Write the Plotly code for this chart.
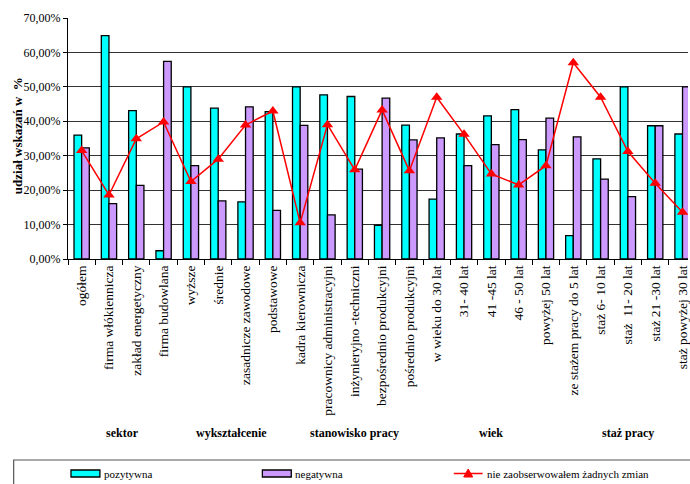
import plotly.graph_objects as go

# Respondent groups along the category axis
categories = [
    "ogółem", "firma włókiennicza", "zakład energetyczny", "firma budowlana",
    "wyższe", "średnie", "zasadnicze zawodowe", "podstawowe",
    "kadra kierownicza", "pracownicy administracyjni", "inżynieryjno -techniczni",
    "bezpośrednio produkcyjni", "pośrednio produkcyjni",
    "w wieku do 30 lat", "31- 40 lat", "41 -45 lat", "46 - 50 lat", "powyżej 50 lat",
    "ze stażem pracy do 5 lat", "staż 6- 10 lat", "staż  11- 20 lat",
    "staż 21 -30 lat", "staż powyżej 30 lat",
]

# Share of answers, in percent
pozytywna = [36.0, 64.9, 43.1, 2.4, 50.0, 43.8, 16.6, 42.8, 50.0, 47.7, 47.2,
             9.8, 38.9, 17.4, 36.3, 41.6, 43.4, 31.7, 6.8, 29.1, 50.0, 38.7, 36.3]
negatywna = [32.3, 16.1, 21.4, 57.4, 27.1, 16.9, 44.2, 14.1, 38.8, 12.8, 26.1,
             46.7, 34.6, 35.2, 27.1, 33.2, 34.7, 40.9, 35.5, 23.2, 18.1, 38.7, 50.0]
bez_zmian = [31.5, 18.6, 34.9, 39.8, 22.5, 29.0, 38.9, 43.0, 10.5, 39.0, 25.9,
             43.3, 25.6, 47.0, 36.2, 24.7, 21.5, 27.1, 57.0, 47.0, 31.2, 22.0, 13.6]

# Group headings: (label, first index, last index)
groups = [
    ("sektor", 0, 3),
    ("wykształcenie", 4, 7),
    ("stanowisko pracy", 8, 12),
    ("wiek", 13, 17),
    ("staż pracy", 18, 22),
]

series_names = ["pozytywna", "negatywna", "nie zaobserwowałem żadnych zmian"]

W, H = 690, 484
ML, MR, MT, MB = 68, 0, 18, 225
PW, PH = W - ML - MR, H - MT - MB


def px_x(p):
    return (p - ML) / PW


def px_y(p):
    return (H - MB - p) / PH


SERIF = "Liberation Serif"
CYAN = "#00FFFF"
LILAC = "#CC99FF"
RED = "#FF0000"

fig = go.Figure()
fig.add_trace(go.Bar(
    x=categories, y=[v / 100 for v in pozytywna], name=series_names[0],
    marker=dict(color=CYAN, line=dict(color="#000000", width=1.3)),
))
fig.add_trace(go.Bar(
    x=categories, y=[v / 100 for v in negatywna], name=series_names[1],
    marker=dict(color=LILAC, line=dict(color="#000000", width=1.3)),
))
fig.add_trace(go.Scatter(
    x=categories, y=[v / 100 for v in bez_zmian], name=series_names[2],
    mode="lines+markers",
    line=dict(color=RED, width=1.5),
    marker=dict(symbol="triangle-up", size=10, color=RED),
))

annotations = []
for label, a, b in groups:
    annotations.append(dict(
        x=(a + b) / 2, xref="x", y=px_y(433), yref="paper",
        text=f"<b>{label}</b>", showarrow=False,
        font=dict(family=SERIF, size=12, color="#000000"),
        xanchor="center", yanchor="middle",
    ))

# Y axis title
annotations.append(dict(
    x=px_x(17), xref="paper", y=px_y(136), yref="paper",
    text="<b>udział wskazań w  %</b>", showarrow=False, textangle=-90,
    font=dict(family=SERIF, size=13, color="#000000"),
    xanchor="center", yanchor="middle",
))

# Legend box with entries
shapes = [dict(
    type="rect", xref="paper", yref="paper",
    x0=px_x(13.5), x1=px_x(720), y0=px_y(460), y1=px_y(520),
    line=dict(color="#555555", width=1.2), fillcolor="rgba(0,0,0,0)",
)]
legend_y = 473.5
swatches = [(71, 100, CYAN), (263, 292, LILAC)]
for x0, x1, col in swatches:
    shapes.append(dict(
        type="rect", xref="paper", yref="paper",
        x0=px_x(x0), x1=px_x(x1), y0=px_y(legend_y + 3.5), y1=px_y(legend_y - 3.5),
        line=dict(color="#000000", width=1.3), fillcolor=col,
    ))
shapes.append(dict(
    type="line", xref="paper", yref="paper",
    x0=px_x(455), x1=px_x(484), y0=px_y(legend_y), y1=px_y(legend_y),
    line=dict(color=RED, width=1.5),
))
shapes.append(dict(
    type="path", xref="paper", yref="paper",
    path=(f"M {px_x(465)} {px_y(legend_y + 3.5)} L {px_x(474)} {px_y(legend_y + 3.5)} "
          f"L {px_x(469.5)} {px_y(legend_y - 4.5)} Z"),
    line=dict(color=RED, width=1), fillcolor=RED,
))
for x_left, name in [(102, series_names[0]), (294, series_names[1]), (486, series_names[2])]:
    annotations.append(dict(
        x=px_x(x_left), xref="paper", y=px_y(legend_y), yref="paper",
        text=name, showarrow=False,
        font=dict(family=SERIF, size=11, color="#000000"),
        xanchor="left", yanchor="middle",
    ))

fig.update_layout(
    width=W, height=H,
    margin=dict(l=ML, r=MR, t=MT, b=MB, pad=0),
    paper_bgcolor="#FFFFFF", plot_bgcolor="#FFFFFF",
    barmode="group", bargap=0.44, bargroupgap=0,
    showlegend=False,
    separators=", ",
    font=dict(family=SERIF, color="#000000"),
    annotations=annotations,
    shapes=shapes,
)
fig.update_xaxes(
    type="category", range=[-0.5, 22.2],
    showline=True, linecolor="#000000", linewidth=1,
    ticks="outside", tickson="boundaries", ticklen=5, tickcolor="#000000",
    tickangle=-90, tickfont=dict(family=SERIF, size=13.5, color="#000000"),
    showgrid=False, zeroline=False,
)
fig.update_yaxes(
    range=[0, 0.7], dtick=0.1, tickformat=".2%",
    showline=True, linecolor="#000000", linewidth=1,
    ticks="outside", ticklen=4, tickcolor="#000000",
    tickfont=dict(family=SERIF, size=12, color="#000000"),
    showgrid=True, gridcolor="#333333", gridwidth=1,
    zeroline=False,
)

fig.write_html("out.html")
